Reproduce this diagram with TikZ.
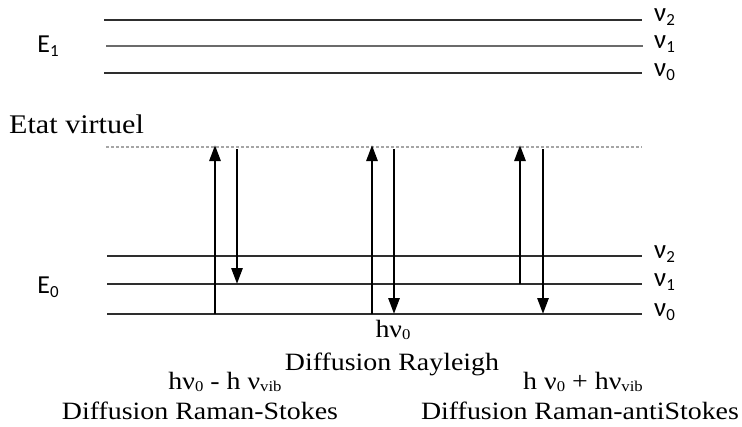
\documentclass[tikz,border=0pt]{standalone}
\usepackage{fontspec}
\setmainfont[FakeStretch=1.12]{Liberation Serif}
\newfontfamily\calib{Carlito}
\usetikzlibrary{arrows.meta}
\newcommand\lowsub[1]{\raisebox{-0.35ex}{\fontsize{17}{17}\selectfont #1}}
\newcommand\capsub[1]{\raisebox{-0.2ex}{\fontsize{15}{15}\selectfont #1}}
\tikzset{
  level/.style={line width=2.2bp, draw=black!82},
  virt/.style={line width=1.6bp, draw=black!35, dash pattern=on 3bp off 2bp},
  trans/.style={line width=2.8bp, -{Triangle[length=16bp,width=11bp]}},
  lvl/.style={font=\calib\fontsize{27}{27}\selectfont, anchor=west, inner sep=0},
  elab/.style={font=\calib\fontsize{26}{26}\selectfont, inner sep=0},
  captxt/.style={font=\fontsize{25}{25}\selectfont, inner sep=0},
}
\begin{document}
\begin{tikzpicture}[x=1bp,y=-1bp]
\useasboundingbox (0,0) rectangle (742,426);
% upper electronic state E1
\coordinate (a2l) at (104,20);  \coordinate (a2r) at (642,20);
\coordinate (a1l) at (106,46);  \coordinate (a1r) at (643,46);
\coordinate (a0l) at (104,73);  \coordinate (a0r) at (642,73);
\draw[level] (a2l) -- (a2r);
\draw[level, draw=black!58] (a1l) -- (a1r);
\draw[level] (a0l) -- (a0r);
\node[lvl] (ta2) at (654,17) {ν\lowsub{2}};
\node[lvl] (ta1) at (654,44) {ν\lowsub{1}};
\node[lvl] (ta0) at (654,72) {ν\lowsub{0}};
\node[elab] (E1) at (48,46) {E\lowsub{1}};
% virtual state
\node[font=\fontsize{27}{27}\selectfont, inner sep=0, anchor=west] (ev) at (9,124) {Etat virtuel};
\coordinate (vl) at (106,147); \coordinate (vr) at (642,147);
\draw[virt] (vl) -- (vr);
% lower electronic state E0
\coordinate (b2l) at (107,256); \coordinate (b2r) at (642,256);
\coordinate (b1l) at (107,284); \coordinate (b1r) at (642,284);
\coordinate (b0l) at (107,314); \coordinate (b0r) at (642,314);
\draw[level] (b2l) -- (b2r);
\draw[level] (b1l) -- (b1r);
\draw[level] (b0l) -- (b0r);
\node[lvl] (tb2) at (654,254) {ν\lowsub{2}};
\node[lvl] (tb1) at (654,282) {ν\lowsub{1}};
\node[lvl] (tb0) at (654,312) {ν\lowsub{0}};
\node[elab] (E0) at (48,287) {E\lowsub{0}};
% transition end points
\coordinate (s1) at (215,314); \coordinate (s1v) at (215,145);
\coordinate (s2v) at (237,149); \coordinate (s2) at (237,284);
\coordinate (r1) at (372,314); \coordinate (r1v) at (372,145);
\coordinate (r2v) at (394,149); \coordinate (r2) at (394,314);
\coordinate (q1) at (520,284); \coordinate (q1v) at (520,145);
\coordinate (q2v) at (543,149); \coordinate (q2) at (543,314);
\draw[trans] (s1) -- (s1v);
\draw[trans] (s2v) -- (s2);
\draw[trans] (r1) -- (r1v);
\draw[trans] (r2v) -- (r2);
\draw[trans] (q1) -- (q1v);
\draw[trans] (q2v) -- (q2);
% captions
\node[captxt] (hr) at (393,330) {hν\capsub{0}};
\node[captxt] (dr) at (392,364) {Diffusion Rayleigh};
\node[captxt] (hs) at (225,382) {hν\capsub{0} - h ν\capsub{vib}};
\node[captxt] (ds) at (200,411) {Diffusion Raman-Stokes};
\node[captxt] (ha) at (583,382) {h ν\capsub{0} + hν\capsub{vib}};
\node[captxt] (da) at (580,411) {Diffusion Raman-antiStokes};
\end{tikzpicture}
\end{document}
